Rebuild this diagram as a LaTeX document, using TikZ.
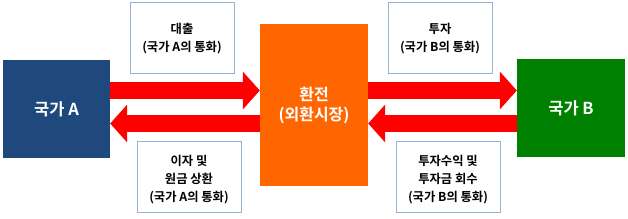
\documentclass[tikz,border=0pt]{standalone}
\usepackage{fontspec}
\setmainfont{Noto Sans CJK KR Bold}
\usetikzlibrary{arrows.meta}
\definecolor{cblue}{HTML}{1F497D}
\definecolor{corange}{HTML}{FF6600}
\definecolor{cgreen}{HTML}{008000}
\definecolor{cborder}{HTML}{95B3D7}
\tikzset{
  country/.style={draw=none, minimum width=107pt, minimum height=98pt, text=white, font=\fontsize{16.5}{20}\selectfont, align=center, inner sep=0pt},
  lbl/.style={draw=cborder, line width=0.8pt, fill=white, minimum width=104pt, minimum height=71pt, inner sep=0pt},
  lbltext/.style={align=center, font=\fontsize{12.3}{18}\selectfont, inner sep=0pt},
  flow/.style={red, line width=17pt, -{Triangle[length=17pt,width=37pt]}},
}
\begin{document}
\begin{tikzpicture}[x=1pt,y=-1pt]
\useasboundingbox (0,0) rectangle (628,218);
\node[country, fill=cblue] (A) at (56.5,109) {국가 A};
\node[country, fill=corange, minimum width=108pt, minimum height=162pt, font=\fontsize{16}{20}\selectfont] (X) at (314,105) {환전\\(외환시장)};
\node[country, fill=cgreen, minimum width=108pt] (B) at (571,108) {국가 B};
\node[lbl] (L1) at (182,37.5) {};
\node[lbl] (L2) at (440,37.5) {};
\node[lbl] (L3) at (189,176.5) {};
\node[lbl] (L4) at (448,176.5) {};
\node[lbltext] (T1) at ([yshift=-1.5pt]L1.center) {대출\\(국가 A의 통화)};
\node[lbltext] (T2) at ([yshift=-1.5pt]L2.center) {투자\\(국가 B의 통화)};
\node[lbltext] (T3) at ([yshift=-3pt]L3.center) {이자 및\\원금 상환\\(국가 A의 통화)};
\node[lbltext] (T4) at ([yshift=-3pt]L4.center) {투자수익 및\\투자금 회수\\(국가 B의 통화)};
\coordinate (a1) at (A.east |- 0,90.5);
\coordinate (x1) at (X.west |- 0,90.5);
\coordinate (a2) at (A.east |- 0,123.5);
\coordinate (x2) at (X.west |- 0,123.5);
\coordinate (x3) at (X.east |- 0,90.5);
\coordinate (b3) at (B.west |- 0,90.5);
\coordinate (x4) at (X.east |- 0,123.5);
\coordinate (b4) at (B.west |- 0,123.5);
\draw[flow] (a1) -- (x1);
\draw[flow] (x2) -- (a2);
\draw[flow] (x3) -- (b3);
\draw[flow] (b4) -- (x4);
\end{tikzpicture}
\end{document}
